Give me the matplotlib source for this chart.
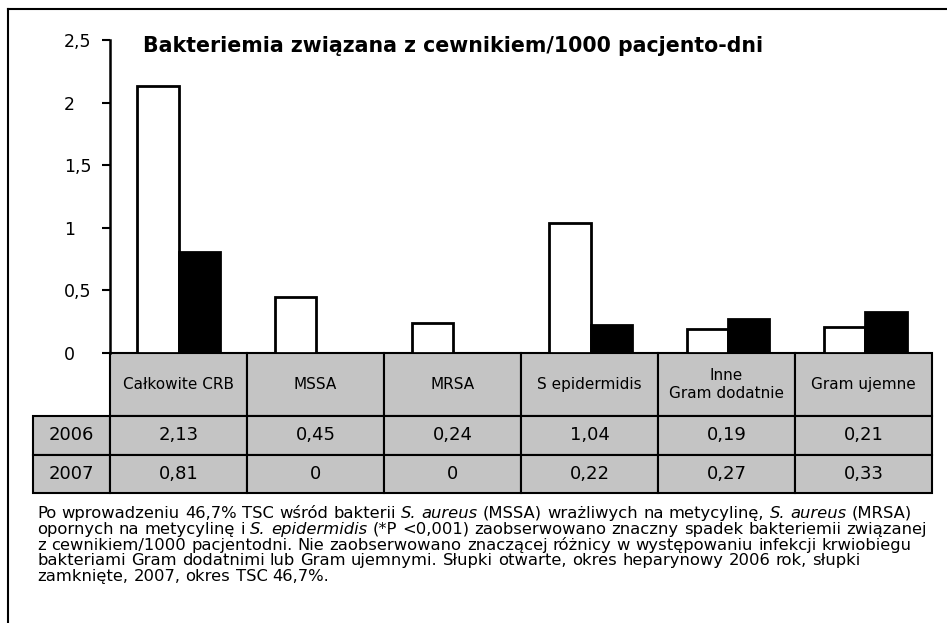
import numpy as np
import matplotlib.pyplot as plt

# data (values per 1000 patient-days)
categories = ['Całkowite CRB', 'MSSA', 'MRSA', 'S epidermidis', 'Inne\nGram dodatnie', 'Gram ujemne']
years = ['2006', '2007']
values_2006 = [2.13, 0.45, 0.24, 1.04, 0.19, 0.21]
values_2007 = [0.81, 0, 0, 0.22, 0.27, 0.33]
y_ticks = [0, 0.5, 1, 1.5, 2, 2.5]

title = 'Bakteriemia związana z cewnikiem/1000 pacjento-dni'
caption = [
    [('Po wprowadzeniu 46,7% TSC wśród bakterii', False), ('S. aureus', True),
     ('(MSSA) wrażliwych na metycylinę,', False), ('S. aureus', True), ('(MRSA)', False)],
    [('opornych na metycylinę i', False), ('S. epidermidis', True),
     ('(*P <0,001) zaobserwowano znaczny spadek bakteriemii związanej', False)],
    [('z cewnikiem/1000 pacjentodni. Nie zaobserwowano znaczącej różnicy w występowaniu infekcji krwiobiegu', False)],
    [('bakteriami Gram dodatnimi lub Gram ujemnymi. Słupki otwarte, okres heparynowy 2006 rok, słupki', False)],
    [('zamknięte, 2007, okres TSC 46,7%.', False)],
]


def pl(v):
    return f'{v:g}'.replace('.', ',')


W, H = 947, 623
AW, AH = 824, 313  # axes size in pixels
fig = plt.figure(figsize=(W / 100, H / 100), dpi=100)
ax = fig.add_axes([110 / W, 1 - 353 / H, AW / W, AH / H])

x = np.arange(len(categories))
bw = 0.3
ax.bar(x - bw / 2, values_2006, bw, color='white', edgecolor='black', linewidth=2)
ax.bar(x + bw / 2, values_2007, bw, color='black', edgecolor='black', linewidth=2)

ax.set_xlim(-0.5, len(categories) - 0.5)
ax.set_ylim(0, 2.5)
ax.set_yticks(y_ticks)
ax.set_yticklabels([pl(v) for v in y_ticks], fontsize=12.5, ha='left')
ax.tick_params(axis='y', direction='out', length=6, width=1.5, pad=27)
ax.set_xticks([])
for s in ['top', 'right', 'bottom']:
    ax.spines[s].set_visible(False)
ax.spines['left'].set_linewidth(1.8)

# data table under the bars; first column holds the year labels
cell_text = [[y] + [pl(v) for v in vals] for y, vals in zip(years, [values_2006, values_2007])]
rw, cw = 77, 137
hh, rh = 63, 38.5
th = (hh + 2 * rh) / AH
tbl = ax.table(cellText=cell_text, colLabels=[''] + categories,
               cellLoc='center', colLoc='center',
               bbox=[-rw / AW, -th, (rw + 6 * cw) / AW, th])
tbl.auto_set_font_size(False)
tbl.set_fontsize(13)
for (r, c), cell in tbl.get_celld().items():
    cell.set_height((hh if r == 0 else rh) / AH)
    cell.set_width((rw if c == 0 else cw) / AW)
    cell.set_facecolor('#c4c4c4')
    cell.set_edgecolor('black')
    cell.set_linewidth(1.5)
    if r == 0:
        cell.get_text().set_fontsize(11)
corner = tbl[0, 0]
corner.visible_edges = ''
corner.set_facecolor('none')

fig.text(143 / W, 1 - 46 / H, title, fontsize=14.8, fontweight='bold', va='center')

# figure frame: top and left edges only
fig.add_artist(plt.Line2D([8 / W, 1], [1 - 9 / H, 1 - 9 / H], color='black', lw=1.5))
fig.add_artist(plt.Line2D([8 / W, 8 / W], [0, 1 - 9 / H], color='black', lw=1.5))

# caption with italic species names
renderer = fig.canvas.get_renderer()
fs = 11.8
probe = fig.text(0, 0, 'a a', fontsize=fs)
w2 = probe.get_window_extent(renderer).width
probe.set_text('aa')
space = w2 - probe.get_window_extent(renderer).width
probe.remove()
baselines = [518, 534, 550, 565, 581]
for line, yb in zip(caption, baselines):
    xp = 37
    for seg, ital in line:
        for word in seg.split(' '):
            t = fig.text(xp / W, 1 - yb / H, word, fontsize=fs, va='baseline',
                         style='italic' if ital else 'normal')
            xp += t.get_window_extent(renderer).width + space

fig.savefig('out.png', dpi=100)
